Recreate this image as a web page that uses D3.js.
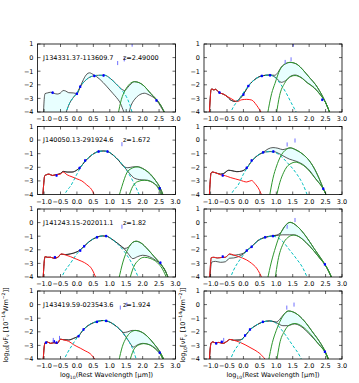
<!DOCTYPE html>
<html><head><meta charset="utf-8">
<script src="https://cdn.jsdelivr.net/npm/d3@7/dist/d3.min.js"></script>
<style>
body{margin:0;background:#fff}
svg{display:block}
text{font-family:"DejaVu Sans",sans-serif;fill:#000}
</style>
</head><body>
<svg id="chart" width="359" height="383"></svg>
<script>
// panels: 0-3 left column top->bottom, 4-7 right column top->bottom
const sourceIds = ['J134331.37-113609.7', 'J140050.13-291924.6', 'J141243.15-202011.1', 'J143419.59-023543.6', '', '', '', ''];
const redshifts = ['2.49000', '1.672', '1.82', '1.924', '', '', '', ''];
const xTicks = [-1.0, -0.5, 0.0, 0.5, 1.0, 1.5, 2.0, 2.5, 3.0];
const yTicks = [1, 0, -1, -2, -3, -4];

// stellar host (red)
const hostSED = [
  null,
  [[-1.04,-4.2],[-1.01,-3.2],[-0.98,-2.62],[-0.93,-2.55],[-0.85,-2.5],[-0.75,-2.6],[-0.65,-2.55],[-0.5,-2.5],[-0.42,-2.35],[-0.3,-2.55],[-0.15,-2.7],[0.0,-2.85],[0.15,-3.0],[0.3,-3.3],[0.45,-3.65],[0.56,-4.2]],
  [[-1.03,-4.2],[-1.0,-3.0],[-0.97,-2.5],[-0.9,-2.55],[-0.8,-2.55],[-0.7,-2.62],[-0.58,-2.55],[-0.48,-2.3],[-0.35,-2.38],[-0.2,-2.5],[0.0,-2.7],[0.15,-2.85],[0.3,-3.05],[0.45,-3.4],[0.6,-4.2]],
  [[-1.03,-4.2],[-1.0,-3.2],[-0.97,-2.8],[-0.9,-2.75],[-0.8,-2.85],[-0.7,-2.8],[-0.6,-2.85],[-0.5,-2.55],[-0.4,-2.6],[-0.25,-2.7],[-0.1,-2.95],[0.1,-3.2],[0.25,-3.4],[0.4,-3.6],[0.6,-4.2]],
  [[-1.04,-4.2],[-1.01,-3.0],[-0.99,-2.4],[-0.96,-2.3],[-0.9,-2.38],[-0.85,-2.33],[-0.75,-2.55],[-0.6,-2.7],[-0.5,-2.85],[-0.35,-3.05],[-0.2,-3.24],[-0.05,-3.1],[0.1,-3.07],[0.25,-3.12],[0.4,-3.5],[0.58,-4.2]],
  [[-1.04,-4.2],[-1.01,-3.0],[-0.99,-2.45],[-0.95,-2.35],[-0.85,-2.4],[-0.7,-2.55],[-0.55,-2.62],[-0.4,-2.75],[-0.25,-2.85],[-0.1,-2.95],[0.1,-3.08],[0.25,-2.97],[0.35,-3.2],[0.47,-3.6],[0.58,-4.2]],
  [[-1.03,-4.2],[-1.0,-3.0],[-0.98,-2.58],[-0.9,-2.55],[-0.8,-2.6],[-0.68,-2.57],[-0.55,-2.55],[-0.42,-2.3],[-0.3,-2.38],[-0.15,-2.5],[0.1,-2.75],[0.25,-3.0],[0.4,-3.35],[0.59,-4.2]],
  [[-1.04,-4.2],[-1.01,-3.2],[-0.98,-2.8],[-0.93,-2.74],[-0.85,-2.82],[-0.75,-2.78],[-0.62,-2.85],[-0.5,-2.7],[-0.41,-2.56],[-0.3,-2.62],[-0.1,-2.78],[0.05,-2.95],[0.2,-3.15],[0.35,-3.35],[0.5,-3.6],[0.72,-4.2]]
];

// AGN (cyan dashed)
const agnSED = [
  [[-0.35,-4.2],[-0.25,-3.5],[-0.1,-2.9],[0.0,-2.62],[0.1,-2.15],[0.25,-1.7],[0.45,-1.38],[0.65,-1.3],[0.85,-1.3],[1.0,-1.5],[1.2,-1.95],[1.35,-2.35],[1.5,-2.85],[1.6,-3.4],[1.7,-4.2]],
  [[-0.42,-4.2],[-0.3,-3.7],[-0.2,-3.4],[0.0,-2.5],[0.1,-2.05],[0.25,-1.55],[0.45,-1.1],[0.65,-0.85],[0.8,-0.8],[0.95,-0.85],[1.1,-1.1],[1.3,-1.55],[1.52,-2.25],[1.7,-3.0],[1.93,-4.2]],
  [[-0.5,-4.2],[-0.4,-3.7],[-0.2,-3.0],[0.0,-2.3],[0.1,-2.02],[0.22,-1.74],[0.4,-1.35],[0.6,-1.08],[0.78,-0.98],[0.9,-1.0],[1.05,-1.2],[1.25,-1.6],[1.45,-2.15],[1.65,-2.9],[1.9,-4.2]],
  [[-0.42,-4.2],[-0.3,-3.6],[-0.15,-3.0],[0.0,-2.45],[0.2,-1.85],[0.4,-1.45],[0.6,-1.25],[0.8,-1.17],[0.95,-1.22],[1.15,-1.5],[1.35,-1.95],[1.5,-2.45],[1.65,-3.0],[1.83,-4.2]],
  [[-0.42,-4.2],[-0.3,-3.6],[-0.15,-3.1],[-0.05,-2.75],[0.15,-2.09],[0.35,-1.6],[0.55,-1.35],[0.8,-1.28],[0.96,-1.45],[1.1,-1.85],[1.3,-2.6],[1.45,-3.3],[1.65,-4.2]],
  [[-0.42,-4.2],[-0.3,-3.7],[-0.16,-3.3],[0.0,-2.5],[0.1,-2.1],[0.25,-1.55],[0.45,-1.1],[0.6,-0.92],[0.78,-0.85],[0.95,-0.9],[1.1,-1.1],[1.32,-1.62],[1.62,-2.48],[1.8,-3.2],[1.97,-4.2]],
  [[-0.42,-4.2],[-0.3,-3.5],[-0.1,-2.7],[0.1,-2.1],[0.25,-1.78],[0.45,-1.32],[0.65,-1.1],[0.85,-0.99],[1.0,-1.05],[1.2,-1.4],[1.4,-2.0],[1.62,-2.68],[1.8,-3.3],[1.97,-4.2]],
  [[-0.42,-4.2],[-0.3,-3.5],[-0.15,-2.95],[0.05,-2.3],[0.2,-1.85],[0.4,-1.5],[0.6,-1.27],[0.8,-1.2],[0.95,-1.3],[1.11,-1.7],[1.3,-2.3],[1.5,-3.0],[1.72,-3.8],[1.8,-4.2]]
];

// cold dust, upper and lower fits (green)
const dustHi = [
  [[1.25,-4.2],[1.35,-3.1],[1.47,-2.4],[1.6,-1.95],[1.75,-1.77],[1.9,-1.85],[2.05,-2.1],[2.23,-2.6],[2.43,-3.1],[2.55,-3.5],[2.7,-4.2]],
  [[1.27,-4.2],[1.37,-3.4],[1.52,-2.4],[1.65,-2.1],[1.83,-1.97],[2.0,-2.1],[2.24,-2.5],[2.4,-3.0],[2.52,-3.45],[2.65,-4.2]],
  [[1.27,-4.2],[1.4,-2.9],[1.55,-1.95],[1.7,-1.45],[1.8,-1.37],[1.95,-1.5],[2.15,-1.95],[2.35,-2.5],[2.55,-3.05],[2.7,-3.6],[2.8,-4.2]],
  [[1.27,-4.2],[1.38,-3.1],[1.5,-2.45],[1.63,-2.05],[1.78,-1.9],[1.95,-2.0],[2.15,-2.35],[2.35,-2.9],[2.52,-3.45],[2.68,-4.2]],
  [[0.73,-4.2],[0.86,-2.63],[0.96,-1.9],[1.11,-0.9],[1.25,-0.5],[1.42,-0.35],[1.6,-0.45],[1.72,-0.67],[1.9,-1.15],[2.03,-1.52],[2.2,-2.0],[2.33,-2.5],[2.5,-3.3],[2.65,-4.2]],
  [[0.79,-4.2],[0.9,-2.8],[1.01,-1.9],[1.12,-1.25],[1.21,-0.9],[1.32,-0.66],[1.42,-0.57],[1.6,-0.72],[1.82,-1.06],[2.0,-1.5],[2.13,-1.97],[2.3,-2.8],[2.43,-3.55],[2.55,-4.2]],
  [[0.73,-4.2],[0.85,-2.9],[0.98,-1.8],[1.1,-0.95],[1.25,-0.3],[1.42,0.02],[1.65,-0.3],[1.9,-1.0],[2.15,-1.9],[2.35,-2.6],[2.48,-3.07],[2.6,-3.6],[2.72,-4.2]],
  [[0.76,-4.2],[0.88,-2.8],[1.0,-1.9],[1.1,-1.3],[1.2,-0.85],[1.37,-0.47],[1.6,-0.65],[1.85,-1.2],[2.1,-2.0],[2.35,-2.85],[2.48,-3.4],[2.62,-4.2]]
];
const dustLo = [
  null,
  [[1.57,-4.2],[1.7,-3.4],[1.85,-3.05],[2.05,-2.95],[2.25,-3.05],[2.45,-3.45],[2.6,-4.2]],
  [[1.6,-4.2],[1.72,-3.3],[1.88,-2.75],[2.05,-2.55],[2.25,-2.65],[2.45,-2.95],[2.6,-3.4],[2.75,-4.2]],
  [[1.6,-4.2],[1.72,-3.35],[1.87,-2.98],[2.03,-2.87],[2.2,-2.95],[2.4,-3.3],[2.55,-3.7],[2.65,-4.2]],
  [[1.0,-4.2],[1.1,-2.8],[1.25,-1.9],[1.4,-1.45],[1.57,-1.32],[1.75,-1.47],[1.95,-1.87],[2.15,-2.22],[2.35,-2.77],[2.5,-3.3],[2.65,-4.2]],
  [[1.0,-4.2],[1.11,-3.1],[1.22,-2.4],[1.32,-1.97],[1.45,-1.72],[1.57,-1.62],[1.75,-1.75],[1.92,-2.05],[2.1,-2.55],[2.25,-3.0],[2.43,-3.6],[2.55,-4.2]],
  [[0.96,-4.2],[1.05,-2.8],[1.2,-1.6],[1.35,-1.1],[1.52,-0.92],[1.7,-1.05],[1.9,-1.45],[2.15,-2.1],[2.35,-2.7],[2.48,-3.1],[2.6,-3.6],[2.7,-4.2]],
  [[1.01,-4.2],[1.1,-2.9],[1.25,-1.95],[1.4,-1.5],[1.57,-1.39],[1.8,-1.62],[2.05,-2.2],[2.3,-2.95],[2.48,-3.5],[2.6,-4.2]]
];

// total model, two fits (black); the band between them is shaded
const totalLo = [
  [[-1.02,-4.2],[-1.0,-3.2],[-0.97,-2.65],[-0.9,-2.6],[-0.8,-2.55],[-0.7,-2.62],[-0.6,-2.68],[-0.5,-2.6],[-0.42,-2.42],[-0.35,-2.45],[-0.25,-2.58],[-0.1,-2.6],[0.0,-2.65],[0.1,-2.15],[0.2,-1.6],[0.3,-1.22],[0.38,-1.12],[0.5,-1.25],[0.7,-1.6],[0.9,-2.1],[1.1,-2.65],[1.3,-3.25],[1.5,-4.2],[1.55,-4.2],[1.65,-3.5],[1.8,-2.95],[1.95,-2.68],[2.05,-2.62],[2.2,-2.75],[2.43,-3.15],[2.55,-3.6],[2.7,-4.2]],
  [[-1.04,-4.2],[-1.01,-3.2],[-0.98,-2.62],[-0.93,-2.55],[-0.85,-2.5],[-0.75,-2.6],[-0.65,-2.55],[-0.5,-2.45],[-0.42,-2.3],[-0.3,-2.35],[-0.15,-2.35],[0.0,-2.2],[0.1,-2.0],[0.25,-1.55],[0.45,-1.1],[0.65,-0.84],[0.8,-0.8],[0.93,-0.84],[1.1,-1.1],[1.27,-1.5],[1.45,-2.0],[1.6,-2.45],[1.75,-2.8],[1.95,-2.92],[2.15,-2.95],[2.35,-3.2],[2.52,-3.6],[2.62,-4.2]],
  [[-1.03,-4.2],[-1.0,-3.0],[-0.97,-2.5],[-0.9,-2.55],[-0.8,-2.55],[-0.7,-2.62],[-0.58,-2.55],[-0.48,-2.32],[-0.35,-2.35],[-0.2,-2.3],[0.0,-2.15],[0.1,-2.0],[0.22,-1.74],[0.4,-1.35],[0.6,-1.08],[0.78,-0.98],[0.9,-1.0],[1.05,-1.2],[1.25,-1.55],[1.45,-1.95],[1.58,-2.35],[1.7,-2.65],[1.85,-2.5],[2.0,-2.4],[2.2,-2.5],[2.4,-2.78],[2.55,-3.05],[2.7,-3.6],[2.8,-4.2]],
  [[-1.03,-4.2],[-1.0,-3.2],[-0.97,-2.8],[-0.9,-2.75],[-0.8,-2.85],[-0.7,-2.8],[-0.6,-2.85],[-0.5,-2.55],[-0.4,-2.58],[-0.25,-2.6],[-0.1,-2.48],[0.05,-2.3],[0.2,-1.83],[0.4,-1.45],[0.6,-1.25],[0.8,-1.17],[0.9,-1.2],[1.05,-1.35],[1.25,-1.7],[1.42,-2.12],[1.58,-2.7],[1.72,-3.12],[1.85,-2.95],[2.0,-2.85],[2.15,-2.9],[2.35,-3.15],[2.52,-3.54],[2.65,-4.2]],
  [[-1.04,-4.2],[-1.01,-3.0],[-0.99,-2.4],[-0.96,-2.3],[-0.9,-2.38],[-0.85,-2.33],[-0.75,-2.55],[-0.6,-2.7],[-0.5,-2.85],[-0.4,-3.1],[-0.25,-3.22],[-0.1,-3.0],[0.0,-2.7],[0.15,-2.09],[0.35,-1.6],[0.55,-1.35],[0.8,-1.28],[1.0,-1.5],[1.15,-1.82],[1.28,-1.7],[1.45,-1.35],[1.57,-1.28],[1.75,-1.45],[1.95,-1.85],[2.15,-2.2],[2.35,-2.75],[2.5,-3.3],[2.65,-4.2]],
  [[-1.04,-4.2],[-1.01,-3.0],[-0.99,-2.45],[-0.95,-2.35],[-0.85,-2.4],[-0.7,-2.5],[-0.6,-2.45],[-0.45,-2.22],[-0.35,-2.25],[-0.2,-2.32],[-0.05,-2.28],[0.1,-2.04],[0.25,-1.55],[0.45,-1.1],[0.6,-0.92],[0.75,-0.85],[0.91,-0.84],[1.05,-0.95],[1.2,-1.15],[1.4,-1.4],[1.6,-1.55],[1.8,-1.78],[2.0,-2.2],[2.2,-2.85],[2.43,-3.58],[2.55,-4.2]],
  [[-1.02,-4.2],[-0.99,-3.2],[-0.96,-2.9],[-0.85,-2.85],[-0.7,-2.92],[-0.55,-2.88],[-0.42,-2.62],[-0.3,-2.6],[-0.15,-2.5],[0.0,-2.3],[0.1,-2.07],[0.25,-1.78],[0.45,-1.32],[0.65,-1.1],[0.85,-1.0],[1.0,-0.95],[1.2,-0.9],[1.4,-0.9],[1.55,-0.9],[1.7,-1.05],[1.9,-1.45],[2.15,-2.1],[2.35,-2.7],[2.48,-3.07],[2.6,-3.6],[2.7,-4.2]],
  [[-1.04,-4.2],[-1.01,-3.2],[-0.98,-2.8],[-0.93,-2.74],[-0.85,-2.82],[-0.75,-2.78],[-0.62,-2.85],[-0.5,-2.7],[-0.41,-2.56],[-0.3,-2.62],[-0.1,-2.6],[0.05,-2.3],[0.2,-1.85],[0.4,-1.5],[0.6,-1.27],[0.8,-1.2],[1.0,-1.33],[1.2,-1.55],[1.35,-1.55],[1.55,-1.42],[1.75,-1.6],[2.0,-2.15],[2.25,-2.8],[2.48,-3.47],[2.62,-4.2]]
];
const totalHi = [
  [[-0.35,-4.2],[-0.25,-3.5],[-0.1,-2.9],[0.0,-2.62],[0.1,-2.15],[0.25,-1.7],[0.45,-1.38],[0.65,-1.3],[0.85,-1.3],[1.0,-1.5],[1.2,-1.95],[1.35,-2.3],[1.45,-2.42],[1.55,-2.18],[1.65,-1.92],[1.75,-1.77],[1.9,-1.85],[2.05,-2.1],[2.23,-2.6],[2.43,-3.1],[2.55,-3.5],[2.7,-4.2]],
  [[-1.04,-4.2],[-1.01,-3.2],[-0.98,-2.62],[-0.93,-2.55],[-0.85,-2.5],[-0.75,-2.6],[-0.65,-2.55],[-0.5,-2.45],[-0.42,-2.3],[-0.3,-2.35],[-0.15,-2.35],[0.0,-2.2],[0.1,-2.0],[0.25,-1.55],[0.45,-1.1],[0.65,-0.84],[0.8,-0.8],[0.93,-0.84],[1.1,-1.1],[1.27,-1.5],[1.45,-1.98],[1.55,-2.03],[1.7,-1.97],[1.83,-1.95],[2.0,-2.08],[2.2,-2.45],[2.4,-3.0],[2.52,-3.45],[2.65,-4.2]],
  [[-1.03,-4.2],[-1.0,-3.0],[-0.97,-2.5],[-0.9,-2.55],[-0.8,-2.55],[-0.7,-2.62],[-0.58,-2.55],[-0.48,-2.32],[-0.35,-2.35],[-0.2,-2.3],[0.0,-2.15],[0.1,-2.0],[0.22,-1.74],[0.4,-1.35],[0.6,-1.08],[0.78,-0.98],[0.9,-1.0],[1.05,-1.2],[1.25,-1.55],[1.45,-1.9],[1.57,-1.8],[1.7,-1.45],[1.8,-1.37],[1.95,-1.5],[2.15,-1.95],[2.35,-2.5],[2.55,-3.05],[2.7,-3.6],[2.8,-4.2]],
  [[-1.03,-4.2],[-1.0,-3.2],[-0.97,-2.8],[-0.9,-2.75],[-0.8,-2.85],[-0.7,-2.8],[-0.6,-2.85],[-0.5,-2.55],[-0.4,-2.58],[-0.25,-2.6],[-0.1,-2.48],[0.05,-2.3],[0.2,-1.83],[0.4,-1.45],[0.6,-1.25],[0.8,-1.17],[0.9,-1.2],[1.05,-1.35],[1.25,-1.7],[1.42,-2.05],[1.55,-2.0],[1.68,-1.9],[1.8,-1.9],[1.95,-2.0],[2.15,-2.35],[2.35,-2.9],[2.52,-3.45],[2.68,-4.2]],
  [[-1.04,-4.2],[-1.01,-3.0],[-0.99,-2.4],[-0.96,-2.3],[-0.9,-2.38],[-0.85,-2.33],[-0.75,-2.55],[-0.6,-2.7],[-0.5,-2.85],[-0.4,-3.1],[-0.25,-3.22],[-0.1,-3.0],[0.0,-2.7],[0.15,-2.09],[0.35,-1.6],[0.55,-1.35],[0.8,-1.28],[0.95,-1.3],[1.05,-1.1],[1.15,-0.7],[1.28,-0.45],[1.42,-0.35],[1.6,-0.45],[1.72,-0.67],[1.9,-1.15],[2.03,-1.52],[2.2,-2.0],[2.33,-2.5],[2.5,-3.3],[2.65,-4.2]],
  [[-1.04,-4.2],[-1.01,-3.0],[-0.99,-2.45],[-0.95,-2.35],[-0.85,-2.4],[-0.7,-2.5],[-0.6,-2.45],[-0.45,-2.22],[-0.35,-2.25],[-0.2,-2.32],[-0.05,-2.28],[0.1,-2.04],[0.25,-1.55],[0.45,-1.1],[0.6,-0.9],[0.75,-0.65],[0.9,-0.55],[1.05,-0.6],[1.2,-0.7],[1.32,-0.63],[1.42,-0.57],[1.6,-0.72],[1.82,-1.06],[2.0,-1.5],[2.13,-1.97],[2.3,-2.8],[2.43,-3.55],[2.55,-4.2]],
  [[-1.03,-4.2],[-1.0,-3.0],[-0.98,-2.58],[-0.9,-2.55],[-0.8,-2.6],[-0.68,-2.57],[-0.55,-2.55],[-0.42,-2.32],[-0.3,-2.4],[-0.15,-2.35],[0.0,-2.25],[0.1,-2.05],[0.25,-1.75],[0.45,-1.3],[0.65,-1.08],[0.85,-0.98],[1.0,-0.92],[1.15,-0.7],[1.25,-0.3],[1.42,0.02],[1.65,-0.3],[1.9,-1.0],[2.15,-1.9],[2.35,-2.6],[2.48,-3.07],[2.6,-3.6],[2.72,-4.2]],
  [[-1.04,-4.2],[-1.01,-3.2],[-0.98,-2.8],[-0.93,-2.74],[-0.85,-2.82],[-0.75,-2.78],[-0.62,-2.85],[-0.5,-2.7],[-0.41,-2.56],[-0.3,-2.62],[-0.1,-2.6],[0.05,-2.3],[0.2,-1.85],[0.4,-1.5],[0.6,-1.27],[0.8,-1.2],[1.0,-1.28],[1.1,-1.1],[1.2,-0.8],[1.37,-0.47],[1.6,-0.65],[1.85,-1.2],[2.1,-2.0],[2.35,-2.85],[2.48,-3.4],[2.62,-4.2]]
];

// photometry (blue) and upper limits (light blue)
const photPoints = [
  [[-0.74,-2.58],[0.0,-2.66],[0.1,-2.14],[0.53,-1.35],[0.81,-1.31],[2.42,-3.15]],
  [[-0.62,-2.6],[0.08,-2.05],[0.25,-1.5],[0.66,-0.84],[0.93,-0.84],[2.52,-3.55]],
  [[-0.67,-2.55],[0.1,-2.06],[0.22,-1.74],[0.61,-1.08],[0.89,-0.99],[2.54,-2.95]],
  [[-0.94,-2.8],[-0.7,-2.7],[-0.62,-2.8],[0.05,-2.32],[0.2,-1.83],[0.61,-1.27],[0.89,-1.2],[2.52,-3.54]],
  [[-0.73,-2.57],[0.0,-2.72],[0.15,-2.09],[0.56,-1.35],[0.81,-1.3],[2.4,-3.1]],
  [[-0.63,-2.6],[0.1,-2.04],[0.25,-1.5],[0.6,-0.9],[0.91,-0.84],[2.43,-3.58]],
  [[-0.63,-2.5],[0.1,-2.06],[0.25,-1.78],[0.66,-1.08],[0.9,-0.99],[2.48,-3.07]],
  [[-0.83,-2.85],[-0.66,-2.74],[0.05,-2.27],[0.2,-1.83],[0.59,-1.27],[2.48,-3.47]]
];
const upperLims = [
  [[1.24,-0.4],[1.44,-0.13],[1.68,0.95]],
  [[1.37,-0.3]],
  [[1.37,-0.3]],
  [[-0.72,-2.6],[-0.53,-2.45],[1.32,-0.22],[1.52,0.0]],
  [[1.27,-0.32],[1.45,-0.13],[1.52,0.95]],
  [[1.33,-0.32],[1.57,-0.03]],
  [[1.33,-0.3],[1.57,0.19]],
  [[-0.6,-2.6],[1.32,-0.22],[1.54,0.0]]
];

const svg = d3.select('#chart');
const colX = [37.5, 204], plotW = 138;
const rowY = [44, 126.5, 209, 291], plotH = 68;
const yLabelGap = [30, 19];
const fmtX = d => d3.format('.1f')(d).replace('-', '\u2212');
const fmtY = d => d3.format('d')(d).replace('-', '\u2212');

// writes text with sub/superscript pieces using dy shifts
function richText(t, parts, size) {
  let off = 0;
  parts.forEach(([s, kind]) => {
    const target = kind === 'sub' ? size * 0.3 : kind === 'sup' ? -size * 0.4 : 0;
    const fs = kind ? size * 0.7 : size;
    t.append('tspan').attr('dy', target - off).attr('font-size', fs).text(s);
    off = target;
  });
}

for (let p = 0; p < 8; ++p) {
  const col = Math.floor(p / 4), row = p % 4;
  const x = d3.scaleLinear().domain([-1.2, 3.0]).range([colX[col], colX[col] + plotW]);
  const y = d3.scaleLinear().domain([-4, 1]).range([rowY[row] + plotH, rowY[row]]);
  const g = svg.append('g');

  g.append('clipPath').attr('id', 'clip' + p)
    .append('rect').attr('x', colX[col]).attr('y', rowY[row]).attr('width', plotW).attr('height', plotH);
  const plot = g.append('g').attr('clip-path', `url(#clip${p})`);

  const line = d3.line().x(d => x(d[0])).y(d => y(d[1])).curve(d3.curveMonotoneX);

  // shaded band between the two total fits
  const band = line(totalLo[p]) + line(totalHi[p].slice().reverse()).replace(/^M/, 'L') + 'Z';
  plot.append('path').attr('d', band).attr('fill', '#e8ffff').attr('stroke', 'none');

  [totalLo[p], totalHi[p]].forEach(c => {
    plot.append('path').attr('d', line(c)).attr('fill', 'none')
      .attr('stroke', '#222').attr('stroke-width', 0.9).attr('stroke-opacity', 0.85);
  });
  if (hostSED[p]) plot.append('path').attr('d', line(hostSED[p])).attr('fill', 'none')
    .attr('stroke', '#ff1a1a').attr('stroke-width', 1);
  plot.append('path').attr('d', line(agnSED[p])).attr('fill', 'none')
    .attr('stroke', '#00bfbf').attr('stroke-width', 1).attr('stroke-dasharray', '3,2');
  [dustHi[p], dustLo[p]].forEach(c => {
    if (!c) return;
    plot.append('path').attr('d', line(c)).attr('fill', 'none')
      .attr('stroke', '#2e962e').attr('stroke-width', 1);
  });

  // photometry
  photPoints[p].forEach(d => {
    plot.append('line').attr('x1', x(d[0])).attr('x2', x(d[0]))
      .attr('y1', y(d[1] - 0.1)).attr('y2', y(d[1] + 0.1))
      .attr('stroke', '#0000ff').attr('stroke-width', 0.7);
    plot.append('rect').attr('x', x(d[0]) - 1.1).attr('y', y(d[1]) - 1.1)
      .attr('width', 2.2).attr('height', 2.2).attr('fill', '#0000ff');
  });
  upperLims[p].forEach(d => {
    plot.append('line').attr('x1', x(d[0])).attr('x2', x(d[0]))
      .attr('y1', y(d[1] + 0.15)).attr('y2', y(d[1] - 0.15))
      .attr('stroke', '#7070ff').attr('stroke-width', 1);
  });

  // frame and inward ticks on all sides
  g.append('rect').attr('x', colX[col]).attr('y', rowY[row]).attr('width', plotW).attr('height', plotH)
    .attr('fill', 'none').attr('stroke', '#000').attr('stroke-width', 0.8);
  xTicks.forEach(t => {
    const px = x(t);
    g.append('line').attr('x1', px).attr('x2', px).attr('y1', y(-4)).attr('y2', y(-4) - 3)
      .attr('stroke', '#000').attr('stroke-width', 0.6);
    g.append('line').attr('x1', px).attr('x2', px).attr('y1', y(1)).attr('y2', y(1) + 3)
      .attr('stroke', '#000').attr('stroke-width', 0.6);
    g.append('text').attr('x', px).attr('y', y(-4) + 9).attr('text-anchor', 'middle')
      .attr('font-size', 6.5).text(fmtX(t));
  });
  yTicks.forEach(t => {
    const py = y(t);
    g.append('line').attr('x1', x(-1.2)).attr('x2', x(-1.2) + 3).attr('y1', py).attr('y2', py)
      .attr('stroke', '#000').attr('stroke-width', 0.6);
    g.append('line').attr('x1', x(3)).attr('x2', x(3) - 3).attr('y1', py).attr('y2', py)
      .attr('stroke', '#000').attr('stroke-width', 0.6);
    g.append('text').attr('x', x(-1.2) - 4).attr('y', py + 2.3).attr('text-anchor', 'end')
      .attr('font-size', 6.5).text(fmtY(t));
  });

  if (sourceIds[p]) {
    g.append('text').attr('x', x(-1.03)).attr('y', y(0) + 2.3).attr('font-size', 6.5).text(sourceIds[p]);
    g.append('text').attr('x', x(1.4)).attr('y', y(0) + 2.3).attr('font-size', 6.5).text('z=' + redshifts[p]);
  }

  if (row === 3) {
    const xl = g.append('text').attr('x', colX[col] + plotW / 2).attr('y', 377).attr('text-anchor', 'middle');
    richText(xl, [['log'], ['10', 'sub'], ['(Rest Wavelength [\u03bcm])']], 6.5);
    const yl = g.append('text').attr('text-anchor', 'middle')
      .attr('transform', `translate(${colX[col] - yLabelGap[col]},${rowY[row] + plotH / 2}) rotate(-90)`);
    richText(yl, [['log'], ['10', 'sub'], ['[\u03bdF'], ['\u03bd', 'sub'], [' [10'], ['\u221214', 'sup'], ['Wm'], ['\u22122', 'sup'], [']]']], 6.5);
  }
}
</script>
</body></html>
